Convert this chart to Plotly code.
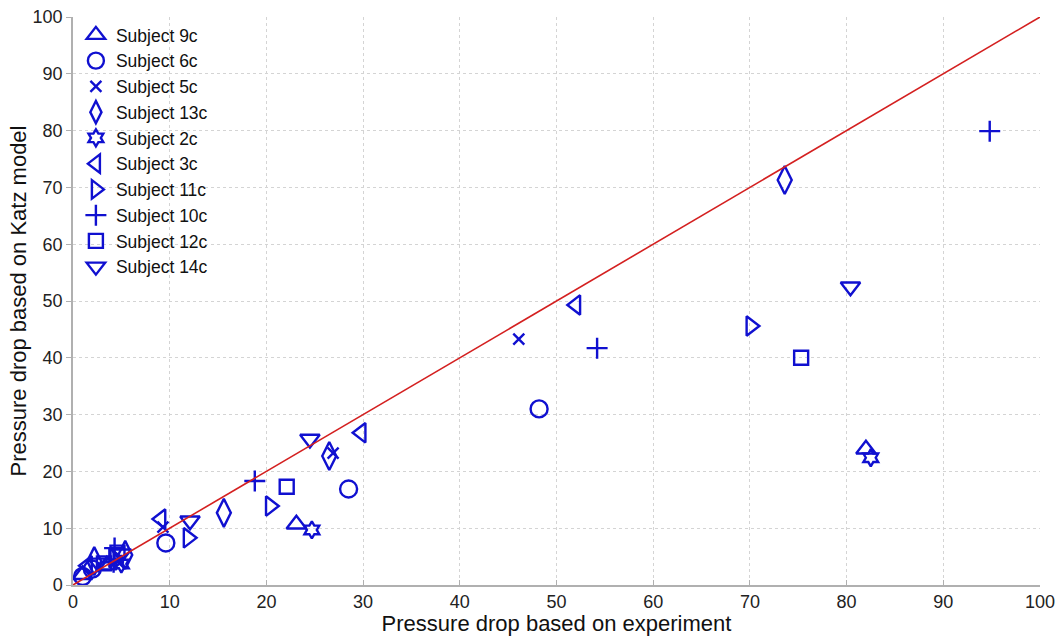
import plotly.graph_objects as go

# Pressure drop pairs (experiment, Katz model) for each subject
names = ["Subject 9c", "Subject 6c", "Subject 5c", "Subject 13c", "Subject 2c",
         "Subject 3c", "Subject 11c", "Subject 10c", "Subject 12c", "Subject 14c"]

exp_9c = [82.0, 23.1, 1.0, 3.5]
katz_9c = [23.9, 10.7, 1.8, 3.5]
exp_6c = [48.2, 28.5, 9.6, 2.0, 1.0]
katz_6c = [31.0, 16.9, 7.4, 2.8, 1.5]
exp_5c = [46.1, 26.9, 9.3, 4.8]
katz_5c = [43.3, 23.2, 10.2, 3.8]
exp_13c = [73.6, 26.5, 15.6, 2.2, 5.4]
katz_13c = [71.3, 22.7, 12.7, 4.2, 5.3]
exp_2c = [82.5, 24.7, 5.0]
katz_2c = [22.4, 9.7, 3.7]
exp_3c = [52.0, 29.8, 9.1, 1.5]
katz_3c = [49.3, 26.8, 11.6, 3.4]
exp_11c = [70.1, 20.4, 11.9, 4.2]
katz_11c = [45.6, 13.9, 8.3, 4.8]
exp_10c = [94.8, 54.2, 18.8, 4.3, 4.2]
katz_10c = [79.9, 41.7, 18.3, 6.5, 4.0]
exp_12c = [75.3, 22.1, 4.6, 3.2]
katz_12c = [40.0, 17.3, 5.7, 3.8]
exp_14c = [80.4, 24.5, 12.1, 2.6, 5.0]
katz_14c = [52.5, 25.7, 11.3, 3.9, 5.5]

xs = [exp_9c, exp_6c, exp_5c, exp_13c, exp_2c, exp_3c, exp_11c, exp_10c, exp_12c, exp_14c]
ys = [katz_9c, katz_6c, katz_5c, katz_13c, katz_2c, katz_3c, katz_11c, katz_10c, katz_12c, katz_14c]
symbols = ["triangle-up-open", "circle-open", "x-thin-open", "diamond-tall-open",
           "hexagram-open", "triangle-left-open", "triangle-right-open",
           "cross-thin-open", "square-open", "triangle-down-open"]
sizes = [17, 17, 11, 20, 13, 17, 17, 15, 14, 17]

# Line of perfect agreement
ref_line = [0, 100]

blue = "#1010d0"
fig = go.Figure()
for name, x, y, sym, sz in zip(names, xs, ys, symbols, sizes):
    fig.add_trace(go.Scatter(
        x=x, y=y, mode="markers", name=name,
        marker=dict(symbol=sym, size=sz, color=blue, line=dict(color=blue, width=2.4)),
    ))

fig.add_trace(go.Scatter(x=ref_line, y=ref_line, mode="lines", showlegend=False,
                         line=dict(color="#d42020", width=1.6)))

axis_common = dict(
    range=[0, 100], dtick=10, showgrid=True, gridcolor="#d4d4d4", griddash="dot",
    gridwidth=1, zeroline=False, showline=True, linecolor="#b0b0b0", linewidth=1.5,
    ticklen=5, tickcolor="#b0b0b0", automargin=False,
    tickfont=dict(family="Liberation Sans, Arial", size=18, color="#222"),
)

fig.update_xaxes(**axis_common, ticks="inside",
                 title=dict(text="Pressure drop based on experiment", standoff=0,
                            font=dict(family="Liberation Sans, Arial", size=22, color="#111")))
fig.update_yaxes(**axis_common, ticks="outside",
                 title=dict(text="Pressure drop based on Katz model", standoff=0,
                            font=dict(family="Liberation Sans, Arial", size=22, color="#111")))

fig.update_layout(
    width=1063, height=636,
    margin=dict(l=73, r=23, t=17, b=51, autoexpand=False),
    plot_bgcolor="white", paper_bgcolor="white",
    legend=dict(x=0.003, y=1.0, xanchor="left", yanchor="top",
                bgcolor="rgba(255,255,255,0)", borderwidth=0,
                font=dict(family="Liberation Sans, Arial", size=17.5, color="#111"),
                tracegroupgap=0, itemwidth=30),
)

fig.write_html("out.html")
